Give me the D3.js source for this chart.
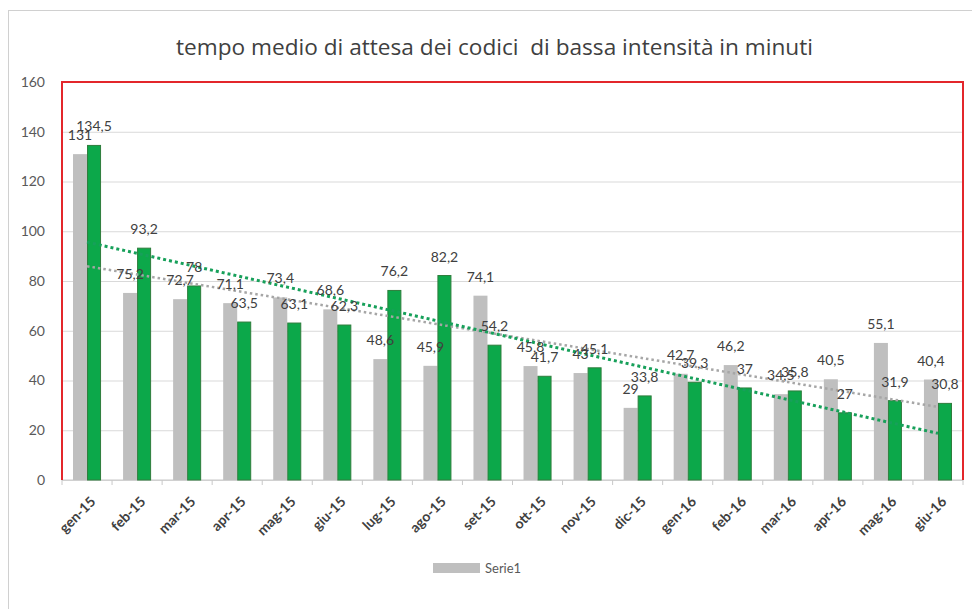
<!DOCTYPE html>
<html>
<head>
<meta charset="utf-8">
<script src="https://cdn.jsdelivr.net/npm/d3@7"></script>
<style>
	body { margin: 0; background: #fff; }
	svg { display: block; font-family: Lato, "Open Sans", sans-serif; }
</style>
</head>
<body>
<script>
// categories (months) and the two series
const months = ["gen-15", "feb-15", "mar-15", "apr-15", "mag-15", "giu-15", "lug-15", "ago-15", "set-15",
	"ott-15", "nov-15", "dic-15", "gen-16", "feb-16", "mar-16", "apr-16", "mag-16", "giu-16"];
const serie1 = [131, 75.2, 72.7, 71.1, 73.4, 68.6, 48.6, 45.9, 74.1, 45.8, 43, 29, 42.7, 46.2, 34.5, 40.5, 55.1, 40.4];
const serie2 = [134.5, 93.2, 78, 63.5, 63.1, 62.3, 76.2, 82.2, 54.2, 41.7, 45.1, 33.8, 39.3, 37, 35.8, 27, 31.9, 30.8];
const yTicks = [0, 20, 40, 60, 80, 100, 120, 140, 160];

const title = "tempo medio di attesa dei codici  di bassa intensità in minuti";

let width = 972,
	height = 609;

// plot area
let plot = {left: 62, right: 963, top: 82, bottom: 480};

let svg = d3.select("body").append("svg")
	.attr("width", width)
	.attr("height", height);

// outer chart frame
svg.append("rect")
	.attr("x", 8.5).attr("y", 10.5)
	.attr("width", 990).attr("height", 620)
	.attr("fill", "none")
	.attr("stroke", "#d0d0d0");

// scales
const x = d3.scaleBand()
	.domain(months)
	.range([plot.left, plot.right])
	.paddingInner(0.44)
	.paddingOuter(0.22);

const xSub = d3.scaleBand()
	.domain(["s1", "s2"])
	.range([0, x.bandwidth()]);

const y = d3.scaleLinear()
	.domain([0, 160])
	.range([plot.bottom, plot.top]);

// gridlines
svg.append("g")
	.attr("transform", "translate(" + plot.left + ",0)")
	.call(d3.axisLeft(y).tickValues(yTicks).tickSize(-(plot.right - plot.left)).tickFormat(""))
	.call(g => g.select(".domain").remove())
	.call(g => g.selectAll("line").attr("stroke", "#d9d9d9"));

// y tick labels
svg.append("g")
	.attr("transform", "translate(" + plot.left + ",0)")
	.call(d3.axisLeft(y).tickValues(yTicks).tickSize(0).tickPadding(17))
	.call(g => g.select(".domain").remove())
	.call(g => g.selectAll("text")
		.attr("fill", "#595959")
		.style("font-size", "14px")
		.style("font-family", "Lato, sans-serif"));

// x axis line + ticks between categories
svg.append("line")
	.attr("x1", plot.left).attr("x2", plot.right)
	.attr("y1", plot.bottom).attr("y2", plot.bottom)
	.attr("stroke", "#c8c8c8");

const step = x.step();
svg.append("g").selectAll("line")
	.data(d3.range(months.length + 1))
	.enter()
	.append("line")
	.attr("x1", d => x(months[0]) - x.paddingInner() * step / 2 + d * step)
	.attr("x2", d => x(months[0]) - x.paddingInner() * step / 2 + d * step)
	.attr("y1", plot.bottom)
	.attr("y2", plot.bottom + 5)
	.attr("stroke", "#c8c8c8");

// bars
svg.append("g").selectAll("rect")
	.data(serie1)
	.enter()
	.append("rect")
	.attr("x", (d, i) => x(months[i]) + xSub("s1"))
	.attr("width", xSub.bandwidth())
	.attr("y", d => y(d))
	.attr("height", d => y(0) - y(d))
	.attr("fill", "#bfbfbf");

svg.append("g").selectAll("rect")
	.data(serie2)
	.enter()
	.append("rect")
	.attr("x", (d, i) => x(months[i]) + xSub("s2") + 0.5)
	.attr("width", xSub.bandwidth() - 1)
	.attr("y", d => y(d))
	.attr("height", d => y(0) - y(d))
	.attr("fill", "#0ca84a")
	.attr("stroke", "#2e7d3c")
	.attr("stroke-width", 1);

// linear trend lines (least squares over category index)
const trend = function(values) {
	const idx = values.map((v, i) => i + 1);
	const mx = d3.mean(idx), my = d3.mean(values);
	const slope = d3.sum(idx, (v, i) => (v - mx) * (values[i] - my)) / d3.sum(idx, v => (v - mx) * (v - mx));
	const icpt = my - slope * mx;
	return idx.map(v => icpt + slope * v);
};

const line = d3.line()
	.x((d, i) => x(months[i]) + x.bandwidth() / 2)
	.y(d => y(d));

svg.append("path")
	.attr("d", line(trend(serie1)))
	.attr("fill", "none")
	.attr("stroke", "#a6a6a6")
	.attr("stroke-width", 2.5)
	.attr("stroke-dasharray", "2.5,3");

svg.append("path")
	.attr("d", line(trend(serie2)))
	.attr("fill", "none")
	.attr("stroke", "#17a05a")
	.attr("stroke-width", 3)
	.attr("stroke-dasharray", "3,3");

// data labels
const fmt = d => String(d).replace(".", ",");
const labels = svg.append("g")
	.attr("fill", "#404040")
	.style("font-size", "14px")
	.attr("text-anchor", "middle");

labels.selectAll(".l1")
	.data(serie1)
	.enter()
	.append("text")
	.attr("x", (d, i) => x(months[i]) + xSub("s1") + xSub.bandwidth() / 2)
	.attr("y", d => y(d) - 14)
	.text(fmt);

labels.selectAll(".l2")
	.data(serie2)
	.enter()
	.append("text")
	.attr("x", (d, i) => x(months[i]) + xSub("s2") + xSub.bandwidth() / 2)
	.attr("y", d => y(d) - 14)
	.text(fmt);

// red frame around plot (left, top, right)
svg.append("path")
	.attr("d", "M" + plot.left + "," + plot.bottom + "V" + plot.top + "H" + plot.right + "V" + plot.bottom)
	.attr("fill", "none")
	.attr("stroke", "#e3262b")
	.attr("stroke-width", 2);

// x labels, rotated
svg.append("g").selectAll("text")
	.data(months)
	.enter()
	.append("text")
	.attr("transform", d => "translate(" + (x(d) + x.bandwidth() / 2 + 6) + "," + (plot.bottom + 19) + ") rotate(-45)")
	.attr("text-anchor", "end")
	.attr("dy", "0.35em")
	.attr("fill", "#404040")
	.style("font-size", "14px")
	.style("font-weight", "bold")
	.text(d => d);

// title
svg.append("text")
	.attr("x", 176)
	.attr("y", 55)
	.attr("fill", "#404040")
	.attr("textLength", 637)
	.attr("lengthAdjust", "spacingAndGlyphs")
	.style("white-space", "pre")
	.style("font-family", "'Open Sans', sans-serif")
	.style("font-size", "21px")
	.text(title);

// legend
svg.append("rect")
	.attr("x", 433).attr("y", 563)
	.attr("width", 47).attr("height", 10)
	.attr("fill", "#bfbfbf");

svg.append("text")
	.attr("x", 485).attr("y", 573)
	.attr("fill", "#595959")
	.style("font-size", "13px")
	.text("Serie1");
</script>
</body>
</html>
